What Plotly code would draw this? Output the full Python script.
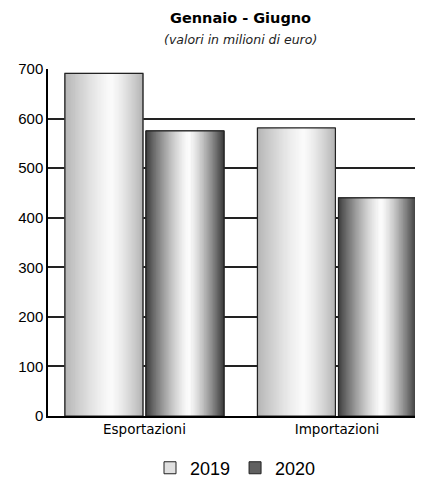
import plotly.graph_objects as go

categories = ["Esportazioni", "Importazioni"]
years = ["2019", "2020"]
values_2019 = [691, 581]
values_2020 = [575, 440]
y_ticks = [0, 100, 200, 300, 400, 500, 600, 700]

series = {"2019": values_2019, "2020": values_2020}

# styling
bar_w = 0.405
offsets = {"2019": -0.413, "2020": 0.008}
edge = {"2019": 180, "2020": 60}      # grey level at edges
peak = {"2019": 250, "2020": 252}     # grey level at highlight
peak_pos = {"2019": 0.6, "2020": 0.55}
solid = {"2019": "#e0e0e0", "2020": "#606060"}
N = 60

fig = go.Figure()

for yr in years:
    vals = series[yr]
    fig.add_trace(go.Bar(
        x=categories, y=vals, name=yr, width=bar_w, offset=offsets[yr],
        marker=dict(color=solid[yr], line=dict(color="#222", width=1)),
        showlegend=True, legendgroup=yr, hoverinfo="skip"))
    for i in range(N):
        t = (i + 0.5) / N
        p = peak_pos[yr]
        d = abs(t - p) / (p if t < p else 1 - p)
        g = int(round(peak[yr] - (peak[yr] - edge[yr]) * d ** 1.3))
        col = f"rgb({g},{g},{g})"
        fig.add_trace(go.Bar(
            x=categories, y=vals, width=bar_w / N * 1.6,
            offset=offsets[yr] + i * bar_w / N - bar_w / N * 0.3,
            marker=dict(color=col, line=dict(width=0)),
            showlegend=False, legendgroup=yr, hoverinfo="skip"))
    fig.add_trace(go.Bar(
        x=categories, y=vals, width=bar_w, offset=offsets[yr],
        marker=dict(color="rgba(0,0,0,0)", line=dict(color="#222", width=1.2)),
        showlegend=False, legendgroup=yr, hoverinfo="skip"))

# page body has an 8px margin: figure is shifted by (8, 8)
fig.update_layout(
    width=415, height=470,
    margin=dict(l=40, r=0, t=61, b=62, autoexpand=False),
    paper_bgcolor="white", plot_bgcolor="white",
    barmode="overlay",
    showlegend=True,
    legend=dict(orientation="h", x=0.5, xanchor="center", y=-0.15, yanchor="middle",
                font=dict(family="Liberation Sans", size=18, color="#000"),
                itemwidth=30, traceorder="normal"),
    annotations=[
        dict(text="<b>Gennaio - Giugno</b>", x=0.5, xref="x", y=1.147, yref="paper",
             yanchor="middle", showarrow=False,
             font=dict(family="DejaVu Sans", size=14.5, color="#000")),
        dict(text="<i>(valori in milioni di euro)</i>", x=0.5, xref="x", y=1.084, yref="paper",
             yanchor="middle", showarrow=False,
             font=dict(family="DejaVu Sans", size=12.5, color="#222")),
    ],
    xaxis=dict(type="category", range=[-0.501, 1.447], showgrid=False,
               showline=True, linecolor="#000", linewidth=1.5, ticks="",
               tickfont=dict(family="DejaVu Sans", size=13.5, color="#000")),
    yaxis=dict(range=[0, 700], tickvals=y_ticks, showgrid=True, gridcolor="#222",
               gridwidth=1.5, showline=True, linecolor="#000", linewidth=1.5,
               zeroline=False, ticks="", ticklabelstandoff=0,
               tickfont=dict(family="Liberation Sans", size=15, color="#000")),
)

fig.write_html("out.html")
